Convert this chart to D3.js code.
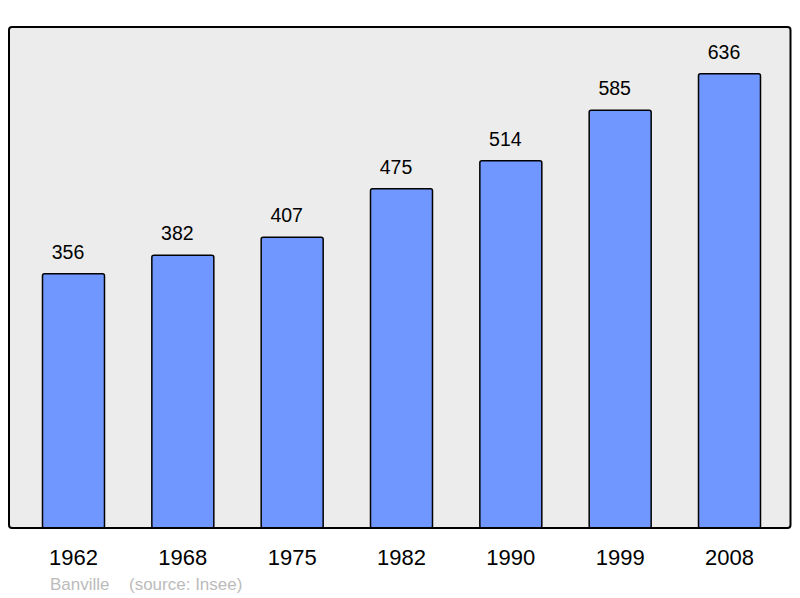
<!DOCTYPE html>
<html>
<head>
<meta charset="utf-8">
<script src="https://cdn.jsdelivr.net/npm/d3@7"></script>
<style>
  body { margin: 0; background: #fff; }
  svg { display: block; }
</style>
</head>
<body>
<div id="chart"></div>
<script>
// data
var years = ["1962", "1968", "1975", "1982", "1990", "1999", "2008"];
var population = [356, 382, 407, 475, 514, 585, 636];
var town = "Banville";
var source = "(source: Insee)";

var width = 800, height = 598;

var svg = d3.select("#chart")
  .append("svg")
    .attr("width", width)
    .attr("height", height);

// plot frame
var frame = {left: 9, top: 27, right: 790.5, bottom: 528};

svg.append("rect")
    .attr("x", frame.left)
    .attr("y", frame.top)
    .attr("width", frame.right - frame.left)
    .attr("height", frame.bottom - frame.top)
    .attr("rx", 3)
    .style("fill", "#ececec")
    .style("stroke", "none");

var x = d3.scaleBand()
  .domain(years)
  .range([9.7, 793.3])
  .paddingInner(0.433)
  .paddingOuter(0.3);

var y = d3.scaleLinear()
  .domain([0, 700])
  .range([frame.bottom, frame.top + 1]);

var data = years.map(function(yr, i) { return {year: yr, value: population[i]}; });

// bars
svg.append("g")
  .selectAll("rect")
  .data(data)
  .enter()
  .append("rect")
    .attr("x", d => x(d.year))
    .attr("y", d => y(d.value))
    .attr("width", x.bandwidth())
    .attr("height", d => frame.bottom - y(d.value))
    .attr("rx", 2)
    .style("fill", "#7096ff")
    .style("stroke", "#000")
    .style("stroke-width", 1.5);

// frame border on top
svg.append("rect")
    .attr("x", frame.left)
    .attr("y", frame.top)
    .attr("width", frame.right - frame.left)
    .attr("height", frame.bottom - frame.top)
    .attr("rx", 3)
    .style("fill", "none")
    .style("stroke", "#000")
    .style("stroke-width", 2);

// value labels (sit a bit left of the bar centre in the original)
svg.append("g")
  .selectAll("text")
  .data(data)
  .enter()
  .append("text")
    .attr("x", d => x(d.year) + x.bandwidth() / 2 - 5.5)
    .attr("y", d => y(d.value) - 15)
    .attr("text-anchor", "middle")
    .style("font-family", "'Liberation Sans', Arial, sans-serif")
    .style("font-size", "19.5px")
    .style("fill", "#000")
    .text(d => d.value);

// year labels
svg.append("g")
  .selectAll("text")
  .data(years)
  .enter()
  .append("text")
    .attr("x", d => x(d) + x.bandwidth() / 2)
    .attr("y", 564.5)
    .attr("text-anchor", "middle")
    .style("font-family", "'Liberation Sans', Arial, sans-serif")
    .style("font-size", "22px")
    .style("fill", "#000")
    .text(d => d);

// footer
svg.append("text")
    .attr("x", 50)
    .attr("y", 590)
    .style("font-family", "'Liberation Sans', Arial, sans-serif")
    .style("font-size", "17px")
    .style("fill", "#bbbbbb")
    .text(town);

svg.append("text")
    .attr("x", 129)
    .attr("y", 590)
    .style("font-family", "'Liberation Sans', Arial, sans-serif")
    .style("font-size", "17px")
    .style("fill", "#bbbbbb")
    .text(source);
</script>
</body>
</html>
